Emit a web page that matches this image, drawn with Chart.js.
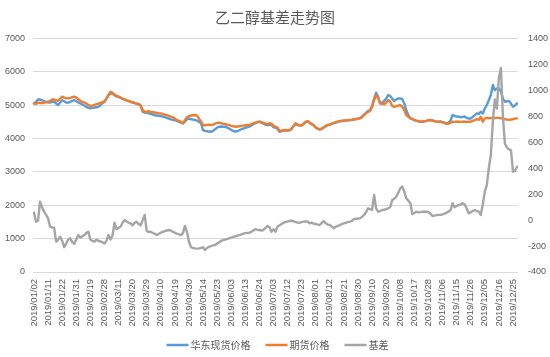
<!DOCTYPE html>
<html><head><meta charset="utf-8">
<script src="https://cdn.jsdelivr.net/npm/chart.js@4.4.1/dist/chart.umd.min.js"></script>
<style>html,body{margin:0;padding:0;background:#fff;overflow:hidden}canvas{display:block}</style>
</head><body>
<canvas id="c" width="550" height="357"></canvas>
<script>
// Trading days of 2019 (month -> day list)
const tradingDays = [
  [1,[2,3,4,7,8,9,10,11,14,15,16,17,18,21,22,23,24,25,28,29,30,31]],
  [2,[11,12,13,14,15,18,19,20,21,22,25,26,27,28]],
  [3,[1,4,5,6,7,8,11,12,13,14,15,18,19,20,21,22,25,26,27,28,29]],
  [4,[1,2,3,4,8,9,10,11,12,15,16,17,18,19,22,23,24,25,26,29,30]],
  [5,[6,7,8,9,10,13,14,15,16,17,20,21,22,23,24,27,28,29,30,31]],
  [6,[3,4,5,6,10,11,12,13,14,17,18,19,20,21,24,25,26,27,28]],
  [7,[1,2,3,4,5,8,9,10,11,12,15,16,17,18,19,22,23,24,25,26,29,30,31]],
  [8,[1,2,5,6,7,8,9,12,13,14,15,16,19,20,21,22,23,26,27,28,29,30]],
  [9,[2,3,4,5,6,9,10,11,12,16,17,18,19,20,23,24,25,26,27,30]],
  [10,[8,9,10,11,14,15,16,17,18,21,22,23,24,25,28,29,30,31]],
  [11,[1,4,5,6,7,8,11,12,13,14,15,18,19,20,21,22,25,26,27,28,29]],
  [12,[2,3,4,5,6,9,10,11,12,13,16,17,18,19,20,23,24,25,26,27]]
];
const pad2 = n => (n < 10 ? '0' : '') + n;
const categories = [];
tradingDays.forEach(([m, days]) => days.forEach(d => categories.push('2019/' + pad2(m) + '/' + pad2(d))));

const seriesNames = ['华东现货价格', '期货价格', '基差'];

const spotPrice = [
5050,5100,5175,5170,5150,5120,5100, 5090,5080,5100,5105,5050,5006,5080, 5150,5120,5080,5075,5100,5130,5156,
5120,5080,5050,5020,4990,4950,4920, 4906,4920,4930,4940,4950,5000,5060, 5105,5200,5300,5355,5340,5300,5260,
5255,5220,5190,5170,5140,5120,5100, 5080,5060,5040,5030,4980,4800,4780, 4770,4756,4740,4720,4700,4690,4680,
4676,4660,4640,4620,4600,4576,4560, 4550,4530,4500,4480,4456,4500,4580, 4600,4580,4570,4556,4540,4500,4456,
4256,4230,4220,4210,4206,4230,4280, 4330,4356,4360,4356,4356,4330,4300, 4260,4230,4206,4220,4250,4280,4300,
4320,4340,4356,4390,4430,4460,4490, 4506,4480,4450,4420,4400,4420,4406, 4340,4330,4300,4200,4220,4240,4250,
4240,4250,4290,4370,4440,4410,4390, 4390,4440,4490,4520,4470,4430,4390, 4330,4290,4270,4290,4330,4370,4400,
4420,4440,4460,4480,4500,4520,4525, 4535,4540,4548,4552,4560,4575,4590, 4600,4620,4660,4720,4780,4830,4856,
4980,5200,5376,5250,5056,5080,5130, 5200,5306,5275,5200,5130,5170,5200, 5206,5180,5050,4850,4700,4606,4580,
4550,4530,4515,4506,4505,4520,4530, 4550,4556,4545,4525,4510,4505,4510, 4490,4480,4450,4470,4550,4706,4680,
4660,4656,4640,4650,4660,4620,4600, 4600,4650,4700,4756,4740,4806,4750, 4900,5006,5150,5306,5606,5450,5506,
5506,5420,5200,5105,5120,5130,5050, 4956,4990,5056
];

const futuresPrice = [
5060,5040,5070,5075,5060,5080,5090, 5105,5120,5175,5170,5140,5135,5200, 5255,5230,5210,5206,5220,5240,5255,
5230,5180,5130,5100,5080,5050,5010, 4976,4990,5010,5030,5050,5070,5090, 5105,5200,5300,5405,5370,5320,5280,
5255,5230,5200,5175,5150,5130,5105, 5090,5070,5050,5040,5000,4850,4806, 4806,4820,4800,4790,4780,4770,4760,
4756,4740,4720,4700,4680,4656,4640, 4600,4556,4530,4500,4456,4550,4640, 4676,4690,4700,4706,4690,4600,4506,
4406,4400,4410,4420,4406,4420,4450, 4470,4476,4460,4440,4436,4420,4400, 4380,4370,4356,4360,4370,4380,4390,
4400,4405,4406,4430,4460,4480,4495, 4506,4490,4470,4450,4430,4460,4450, 4380,4360,4330,4227,4240,4250,4260,
4250,4256,4300,4380,4456,4420,4400, 4400,4450,4500,4526,4480,4440,4400, 4340,4300,4276,4300,4340,4380,4410,
4426,4450,4470,4490,4510,4526,4530, 4540,4545,4550,4556,4560,4570,4580, 4590,4606,4640,4700,4756,4800,4830,
4950,5150,5306,5220,5056,5040,5030, 5080,5156,5105,4976,4950,4970,4990, 5006,4950,4850,4706,4650,4606,4590,
4560,4540,4520,4506,4510,4520,4530, 4550,4556,4540,4520,4506,4500,4506, 4490,4470,4436,4450,4480,4506,4500,
4510,4506,4500,4506,4510,4500,4506, 4506,4530,4556,4580,4560,4656,4506, 4600,4620,4610,4620,4606,4615,4620,
4620,4610,4600,4580,4570,4560,4570, 4580,4600,4606
];

const basis = [
57,-12,-5,142,100,65,40, 14,-51,-55,-60,-166,-150,-128, -160,-209,-180,-150,-140,-170,-184,
-150,-115,-135,-125,-115,-100,-89, -150,-160,-166,-150,-160,-165,-170, -180,-160,-115,-150,-120,-20,-70,
-60,-51,-20,1,-10,-20,-25, -40,-20,-12,-30,-40,0,40, -84,-90,-90,-100,-105,-115,-105,
-97,-90,-85,-80,-76,-80,-90, -97,-105,-110,-115,-100,-45,-90, -166,-209,-215,-218,-220,-218,-215,
-209,-230,-215,-205,-200,-195,-192, -180,-170,-160,-155,-150,-145,-140, -135,-130,-125,-120,-115,-110,-105,
-100,-98,-97,-90,-80,-70,-75, -76,-80,-76,-60,-45,-55,-90, -70,-89,-50,-40,-30,-20,-15,
-10,-7,-5,-10,-15,-20,-20, -15,-12,-10,-12,-25,-20,-28, -30,-35,-38,-20,-7,-25,-35,
-38,-50,-63,-50,-45,-38,-30, -25,-20,-15,-12,-5,8,10, 12,14,25,40,60,91,85,
78,194,90,65,70,78,80, 85,91,100,155,165,180,210, 245,258,220,168,150,130,47,
55,65,60,62,65,64,65, 60,50,32,35,38,40,40, 45,50,58,65,78,130,100,
110,115,120,130,120,90,52, 60,70,78,70,65,40,120, 220,270,400,502,760,930,860,
1100,1173,800,590,560,545,540, 373,380,412
];

const leftTicks = {min: 0, max: 7000, step: 1000};
const rightTicks = {min: -400, max: 1400, step: 200};
const labelEvery = 7;

const TXT = '#595959';
const colors = ['#5B9BD5', '#ED7D31', '#A5A5A5'];

const lineLegend = {
  id: 'lineLegend',
  afterDraw(chart) {
    const ctx = chart.ctx;
    ctx.save();
    ctx.font = '10px "Noto Sans CJK SC"';
    ctx.textBaseline = 'middle';
    const items = chart.data.datasets.map(d => ({text: d.label, color: d.borderColor}));
    const lineW = 22, gap = 2, sep = 15;
    const widths = items.map(it => lineW + gap + ctx.measureText(it.text).width);
    const total = widths.reduce((a, b) => a + b, 0) + sep * (items.length - 1);
    let x = 277.5 - total / 2;
    const y = 345;
    items.forEach((it, i) => {
      ctx.strokeStyle = it.color;
      ctx.lineWidth = 2.5;
      ctx.beginPath(); ctx.moveTo(x, y); ctx.lineTo(x + lineW, y); ctx.stroke();
      ctx.fillStyle = TXT;
      ctx.fillText(it.text, x + lineW + gap, y);
      x += widths[i] + sep;
    });
    ctx.restore();
  }
};

new Chart(document.getElementById('c'), {
  type: 'line',
  data: {
    labels: categories,
    datasets: [
      {label: seriesNames[0], data: spotPrice, borderColor: colors[0], backgroundColor: colors[0], yAxisID: 'y', order: 3},
      {label: seriesNames[1], data: futuresPrice, borderColor: colors[1], backgroundColor: colors[1], yAxisID: 'y', order: 2},
      {label: seriesNames[2], data: basis, borderColor: colors[2], backgroundColor: colors[2], yAxisID: 'y2', order: 1}
    ]
  },
  options: {
    responsive: false,
    animation: false,
    devicePixelRatio: 1,
    layout: {padding: {left: 0, right: 0, top: 0, bottom: 25}},
    elements: {
      point: {radius: 0},
      line: {borderWidth: 2.4, tension: 0, borderJoinStyle: 'round', borderCapStyle: 'round'}
    },
    plugins: {
      legend: {display: false},
      tooltip: {enabled: false},
      title: {
        display: true,
        text: '乙二醇基差走势图',
        color: TXT,
        font: {family: '"Noto Sans CJK SC"', size: 15, weight: 'normal'},
        padding: {top: 8, bottom: 12.5}
      }
    },
    scales: {
      x: {
        type: 'category',
        offset: true,
        grid: {display: false, drawTicks: false},
        border: {display: false},
        ticks: {
          autoSkip: false,
          minRotation: 90,
          maxRotation: 90,
          padding: 7,
          color: TXT,
          font: {family: '"Liberation Sans"', size: 9.5},
          callback: function(v, i) { return i % labelEvery === 0 ? this.getLabelForValue(v) : ''; }
        },
        afterFit(s) { s.height = 60; }
      },
      y: {
        position: 'left',
        min: leftTicks.min, max: leftTicks.max,
        grid: {color: '#D9D9D9', lineWidth: 1, drawTicks: false},
        border: {display: false},
        ticks: {stepSize: leftTicks.step, padding: 8, color: TXT, font: {family: '"Liberation Sans"', size: 9},
          callback: v => String(v)},
        afterFit(s) { s.width = 33; }
      },
      y2: {
        position: 'right',
        min: rightTicks.min, max: rightTicks.max,
        grid: {display: false, drawTicks: false},
        border: {display: false},
        ticks: {stepSize: rightTicks.step, padding: 10, color: TXT, font: {family: '"Liberation Sans"', size: 9},
          callback: v => String(v)},
        afterFit(s) { s.width = 32; }
      }
    }
  },
  plugins: [lineLegend]
});
</script>
</body></html>
